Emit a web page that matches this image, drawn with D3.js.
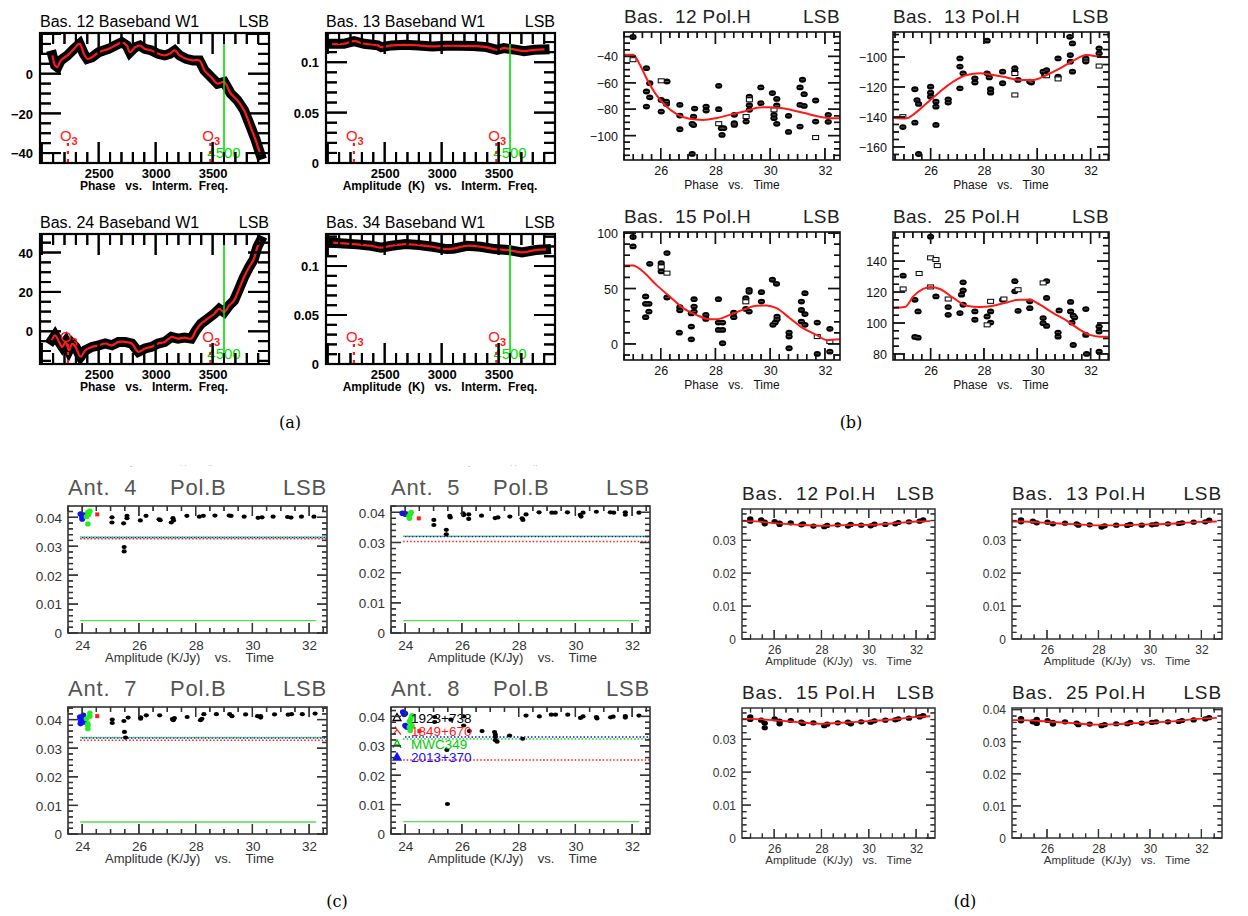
<!DOCTYPE html>
<html><head><meta charset="utf-8">
<script src="https://cdn.jsdelivr.net/npm/d3@7"></script>
<style>
body{margin:0;background:#fff;position:relative;}
#fig{display:block;}
#ticks{position:absolute;left:0;top:0;pointer-events:none;}
svg text{white-space:pre;}
</style></head><body>
<svg id="fig" width="1248" height="916"></svg>
<canvas id="ticks" width="1248" height="916"></canvas>
<script>
// ================= (a) baseband spectra vs IF frequency =================
const ifTicks = [2500, 3000, 3500];
const phaseTicksA12 = [-40, -20, 0];
const phaseTicksA24 = [0, 20, 40];
const ampTicksA = [0, 0.05, 0.1];
const windowFreq = 3600, windowLabel = "4500";
const ozoneFreqs = [2230, 3480];

const bas12IF = [2094,2117,2138,2167,2225,2283,2332,2370,2399,2442,2500,2543,2587,2645,2703,2746,2775,2819,2862,2906,2964,3022,3080,3123,3167,3210,3268,3326,3384,3428,3486,3543,3601,3659,3717,3775,3833,3877,3920];
const bas12Phase = [9.2,4.2,3.3,6.7,9.2,12.5,15,10,7.5,8.3,10.8,11.7,12.5,14.2,15.8,14.2,10.8,13.3,14.2,12.5,11.7,10,9.2,10,11.7,9.2,7.5,6.7,6.7,1.7,-1.7,-5,-4.2,-10,-13.3,-18.3,-26.7,-33.3,-40.8];

const bas24IF = [2088,2117,2152,2181,2210,2239,2268,2297,2341,2384,2442,2500,2558,2616,2674,2732,2790,2848,2906,2964,3022,3080,3138,3196,3254,3312,3355,3399,3457,3514,3558,3601,3645,3688,3732,3775,3819,3862,3891,3920];
const bas24Phase = [-4.5,-2,-5.4,-7.9,-5.4,-9.6,-6.2,-7.9,-12.9,-9.6,-7.9,-7.1,-6.2,-7.1,-5.4,-5.4,-6.2,-10.4,-8.7,-7.9,-6.2,-5.4,-2.9,-3.7,-3.2,-3.7,0.5,3.9,6.4,8.9,11.4,9.7,13.1,15.6,21.5,27.4,32.4,36.6,42.5,45.9];

const bas13IF = [2037,2142,2231,2321,2440,2470,2560,2679,2799,2918,3037,3157,3276,3396,3485,3545,3634,3724,3813,3903];
const bas13Amp = [0.1183,0.1183,0.121,0.1183,0.1167,0.115,0.1167,0.1173,0.1167,0.1157,0.1163,0.1163,0.116,0.115,0.1123,0.114,0.1127,0.111,0.1123,0.1127];

const bas34IF = [2048,2139,2259,2380,2470,2560,2681,2801,2922,3042,3102,3223,3343,3464,3584,3705,3825,3916];
const bas34Amp = [0.1238,0.1231,0.1221,0.1207,0.1187,0.1207,0.1224,0.1214,0.1197,0.1173,0.1177,0.1207,0.1197,0.1173,0.1163,0.1139,0.1163,0.117];

// ================= (b) phase vs time =================
const timeTicks = [26, 28, 30, 32];
const phaseTicksB12 = [-100, -80, -60, -40];
const phaseTicksB13 = [-160, -140, -120, -100];
const phaseTicksB15 = [0, 50, 100];
const phaseTicksB25 = [80, 100, 120, 140];

const b12Filled = [[24.99,-25.3],[25.48,-48.9],[25.48,-66.6],[25.48,-78],[25.6,-60.3],[25.6,-71],[26.23,-59],[26.02,-73],[26.21,-74.2],[26.21,-76],[26.02,-81.8],[26.7,-76.7],[26.7,-84.8],[26.7,-95.2],[27.15,-91.1],[27.2,-92],[27.24,-79.5],[27.2,-85.6],[27.15,-113.9],[27.66,-78],[27.66,-81],[28.12,-62.3],[28.12,-80],[28.22,-94.4],[28.24,-99.5],[28.3,-94.4],[28.69,-84.3],[28.69,-90.6],[28.69,-91.9],[29.12,-89.4],[29.24,-70.4],[29.24,-77],[29.24,-80.5],[29.66,-63.5],[29.66,-75.4],[30.08,-67.8],[30.14,-84.3],[30.14,-86.8],[30.24,-72.2],[30.24,-77.2],[30.24,-91.1],[30.67,-85],[30.67,-97.2],[31.09,-63.5],[31.09,-76.7],[31.18,-57.7],[31.24,-68.6],[31.24,-77.5],[31.09,-93.2],[31.66,-73.4],[31.66,-89.4],[32.12,-84.3],[32.12,-89.6]];
const b12Open = [[24.99,-42.5],[26.02,-58.5],[28.12,-91],[29.12,-85.6],[29.24,-72.9],[30.14,-80.5],[31.66,-101.5]];
const b12Fit = [[24.66,-38.7],[24.99,-38.7],[25.24,-46.3],[25.48,-56.5],[25.84,-69.1],[26.21,-78],[26.57,-83.5],[27.05,-87.3],[27.54,-88.1],[28.02,-86.8],[28.51,-84.3],[29.12,-81.3],[29.6,-78.7],[29.96,-78.5],[30.45,-79.2],[30.93,-81.3],[31.42,-83.8],[31.9,-86.1],[32.27,-86.8],[32.55,-86.8]];

const b13Filled = [[24.96,-146.7],[25.41,-121.5],[25.49,-128.7],[25.55,-131.3],[25.41,-143.8],[25.55,-164.7],[26,-119.8],[26,-123.8],[26,-126.5],[26.2,-129.8],[26.2,-133.1],[26.2,-145.3],[26.66,-128.2],[26.66,-130.4],[27.1,-100.9],[27.1,-106.4],[27.22,-110.9],[27.1,-120.9],[27.66,-114.2],[27.66,-117],[28.12,-89.1],[28.12,-110.9],[28.2,-113.6],[28.25,-121.5],[28.25,-123.8],[28.7,-109.8],[28.7,-117.5],[29.16,-107.5],[29.16,-109.8],[29.28,-115.3],[29.72,-116.4],[29.78,-117],[30.22,-109.8],[30.28,-112],[30.35,-108.7],[30.78,-100.9],[30.78,-113.1],[31.22,-86.5],[31.32,-90.9],[31.24,-98.7],[31.24,-103.1],[31.32,-109.8],[31.82,-100.9],[31.82,-102],[31.82,-103],[32.32,-94.2],[32.32,-97.5]];
const b13Open = [[24.96,-139.8],[29.16,-111],[29.16,-125.3],[30.35,-112.5],[30.78,-114.6],[32.32,-106]];
const b13Fit = [[24.59,-140.7],[24.85,-140.9],[25.1,-140.9],[25.41,-137.6],[25.85,-130.9],[26.35,-123.1],[26.85,-116.4],[27.35,-112],[27.85,-110.9],[28.35,-112],[28.85,-113.6],[29.35,-115.3],[29.85,-115.3],[30.35,-112],[30.85,-107.6],[31.35,-102.4],[31.85,-98.7],[32.35,-99.8],[32.66,-100.2]];

const b15Filled = [[24.99,96.5],[24.99,88],[25.6,72.3],[25.45,42.8],[25.45,36.2],[25.57,36.2],[25.57,29.2],[25.45,24.1],[26.02,73],[26.02,65.4],[26.23,82],[26.23,41.9],[26.7,33.2],[26.7,30.3],[26.68,10.2],[27.12,15.7],[27.12,4.2],[27.22,40.4],[27.22,33.7],[27.22,29.2],[27.12,27.5],[27.65,26.2],[27.65,22.6],[28.11,40.4],[28.11,19.3],[28.11,12.6],[28.26,19.3],[28.26,12.6],[28.26,0.6],[28.67,28.3],[28.67,24.1],[29.11,41.3],[29.11,31.6],[29.23,48.8],[29.23,47],[29.23,29.2],[29.68,46.7],[29.68,38.2],[30.08,57.9],[30.23,54.2],[30.1,17.2],[30.18,19.3],[30.25,24.7],[30.25,22.3],[30.69,10.2],[30.69,6.6],[30.69,-3.9],[31.14,38.2],[31.14,30.6],[31.27,45.8],[31.27,26.9],[31.14,20.2],[31.27,17.2],[31.72,19.3],[31.72,-9],[32.18,13.6],[32.18,-7]];
const b15Open = [[26.02,69.5],[26.23,63.9],[29.11,38],[31.72,6.6],[32.18,2.1]];
const b15Fit = [[24.66,70.8],[24.99,70.8],[25.35,65.4],[25.84,53.3],[26.33,42.8],[26.82,32.3],[27.3,26.2],[27.79,22.3],[28.04,22.3],[28.52,26.2],[29,30.7],[29.5,34.4],[29.86,34.7],[30.23,32.3],[30.72,23.2],[31.2,14.2],[31.69,8.1],[32.06,3.6],[32.54,4.2]];

const b25Filled = [[24.97,130.6],[25.41,115],[25.53,107.5],[25.41,91],[25.53,90.5],[26,155.8],[26.2,117.2],[26.66,110.3],[26.66,105.3],[27.22,126.3],[27.22,121.1],[27.16,118.3],[27.22,111.8],[27.1,106.4],[27.66,107.5],[27.66,102.1],[28.12,104.2],[28.25,107.5],[28.25,100.3],[28.7,115],[29.16,127],[29.16,120.5],[29.28,107.9],[29.72,114],[29.72,109.6],[30.35,127.1],[30.22,103.2],[30.22,99.9],[30.35,98.1],[30.35,116.2],[30.78,93.8],[30.78,91.2],[30.82,108.1],[31.25,113.6],[31.25,107.5],[31.35,104.7],[31.4,103.5],[31.35,85.8],[31.3,100.3],[31.82,109],[31.82,92.3],[31.85,80],[32.32,97.7],[32.32,94.5],[32.32,81.5]];
const b25Open = [[24.97,122],[25.57,132],[26,142.1],[26.2,141],[26.25,137.1],[26,123.3],[26.66,115.5],[28.12,98.8],[28.25,114],[28.75,115.5],[29.28,121.5],[30.22,125.9]];
const b25Fit = [[24.59,109.7],[25.04,110.3],[25.35,117.2],[25.72,122],[26,123.3],[26.35,122],[26.85,116.2],[27.35,111.2],[27.85,110.3],[28.35,111.2],[28.85,113.3],[29.35,115.1],[29.72,115.1],[30.1,111.8],[30.6,106.4],[31.1,101.6],[31.6,95.6],[31.97,92.3],[32.35,91.2],[32.66,91.2]];

// ================= (c) antenna amplitude gains vs time =================
const antTimeTicks = [24, 26, 28, 30, 32];
const antAmpTicks = [0, 0.01, 0.02, 0.03, 0.04];
const sourceNames = ["1923+738", "1849+670", "MWC349", "2013+370"];

const ant4Black = [[25.05,0.0400],[25.05,0.0382],[25.46,0.0379],[25.48,0.0297],[25.48,0.0282],[25.58,0.0405],[25.58,0.0397],[26.05,0.0389],[26.25,0.0405],[26.71,0.0393],[26.75,0.0390],[27.14,0.0382],[27.2,0.0397],[27.22,0.0389],[27.69,0.0405],[28.13,0.0402],[28.27,0.0405],[28.68,0.0406],[29.18,0.0406],[29.25,0.0405],[29.71,0.0402],[30.2,0.0398],[30.34,0.0400],[30.73,0.0402],[31.24,0.0401],[31.36,0.0399],[31.73,0.0402],[32.17,0.0402]];
const ant4Blue = [[23.94,0.0411],[24.0,0.0402],[24.06,0.0408],[24.0,0.0394],[24.12,0.0405]];
const ant4Green = [[24.15,0.0402],[24.2,0.0417],[24.2,0.0377],[24.27,0.0421],[24.23,0.0410]];
const ant4Red = [[24.53,0.0410]];
const ant4Levels = {red: 0.0326, blue: 0.0330, green: 0.0332, floor: 0.0043};

const ant5Black = [[25.01,0.0375],[25.01,0.0358],[25.45,0.0342],[25.45,0.0327],[25.57,0.0388],[25.59,0.0383],[26.04,0.0397],[26.06,0.0391],[26.24,0.0393],[26.24,0.0378],[26.69,0.0389],[27.17,0.0381],[27.27,0.0383],[27.69,0.0386],[28.12,0.0380],[28.15,0.0375],[28.26,0.0393],[28.72,0.0400],[29.17,0.0399],[29.29,0.0399],[29.72,0.0400],[30.17,0.0392],[30.27,0.0399],[30.2,0.0386],[30.74,0.0402],[31.23,0.0400],[31.35,0.0399],[31.76,0.0400],[31.76,0.0392],[32.24,0.0399]];
const ant5Blue = [[23.9,0.0397],[23.98,0.0395],[24.04,0.0394]];
const ant5Green = [[24.13,0.0387],[24.18,0.0395],[24.21,0.0400],[24.15,0.0380]];
const ant5Red = [[24.48,0.0380]];
const ant5Levels = {red: 0.0303, blue: 0.0320, green: 0.0321, floor: 0.0041};

const ant7Black = [[25.06,0.0400],[25.06,0.0388],[25.47,0.0395],[25.49,0.0357],[25.53,0.0337],[25.62,0.0407],[26.06,0.0408],[26.06,0.0403],[26.26,0.0415],[26.73,0.0415],[27.18,0.0402],[27.25,0.0405],[27.21,0.0398],[27.7,0.0409],[28.17,0.0398],[28.22,0.0403],[28.29,0.0419],[28.73,0.0419],[29.2,0.0419],[29.28,0.0412],[29.76,0.0418],[30.18,0.0412],[30.29,0.0412],[30.29,0.0407],[30.78,0.0418],[31.26,0.0417],[31.38,0.0419],[31.76,0.0419],[32.21,0.0421]];
const ant7Blue = [[23.92,0.0409],[23.96,0.0395],[24.0,0.0403],[23.94,0.0386],[24.04,0.0415],[24.06,0.0392]];
const ant7Green = [[24.15,0.0403],[24.2,0.0386],[24.2,0.0368],[24.2,0.0380],[24.27,0.0412],[24.27,0.0423]];
const ant7Red = [[24.53,0.0412]];
const ant7Levels = {red: 0.0328, blue: 0.0336, green: 0.0337, floor: 0.0042};

const ant8Black = [[25.04,0.0381],[25.04,0.0398],[25.47,0.0286],[25.49,0.0102],[25.61,0.0389],[26.06,0.0369],[26.06,0.0400],[26.26,0.0350],[26.71,0.0350],[27.15,0.0347],[27.18,0.0338],[27.18,0.0330],[27.18,0.0319],[27.24,0.0314],[27.68,0.0335],[28.14,0.0324],[28.26,0.0403],[28.73,0.0400],[29.15,0.0406],[29.3,0.0406],[29.73,0.0406],[30.18,0.0395],[30.27,0.0400],[30.74,0.0398],[30.76,0.0393],[31.24,0.0397],[31.33,0.0399],[31.76,0.0401],[31.76,0.0396],[32.24,0.0403]];
const ant8Blue = [[23.92,0.0415],[23.96,0.0407],[24.0,0.0369],[24.06,0.0364],[24.0,0.0410]];
const ant8Green = [[24.15,0.0383],[24.2,0.0392],[24.24,0.0369],[24.24,0.0403],[24.18,0.0352],[24.15,0.0364]];
const ant8Red = [[24.5,0.0350]];
const ant8Levels = {red: 0.0252, blue: 0.0330, green: 0.0323, floor: 0.0042};

const levelStart = 23.93, floorEnd = 32.25;

// ================= (d) baseline amplitude vs time =================
const ampTicksD = [0, 0.01, 0.02, 0.03];
const ampTicksD25 = [0, 0.01, 0.02, 0.03, 0.04];

const d12Pts = [[24.99,0.0365],[24.99,0.0358],[25.45,0.0362],[25.6,0.0355],[25.6,0.0350],[26.02,0.0357],[26.23,0.0352],[26.23,0.0348],[26.7,0.0353],[27.15,0.0347],[27.22,0.0350],[27.66,0.0343],[28.12,0.0341],[28.24,0.0345],[28.69,0.0347],[29.12,0.0343],[29.24,0.0348],[29.68,0.0346],[30.08,0.0344],[30.24,0.0349],[30.7,0.0348],[31.12,0.0350],[31.25,0.0354],[31.7,0.0356],[32.15,0.0358],[32.3,0.0362]];
const d12Fit = [[24.64,0.0358],[25,0.0358],[26,0.0352],[27,0.0347],[28,0.0344],[29,0.0346],[30,0.0347],[31,0.0351],[32,0.0357],[32.6,0.0358]];
const d13Pts = [[24.99,0.0362],[24.99,0.0356],[25.45,0.0358],[25.6,0.0353],[26.02,0.0355],[26.23,0.0350],[26.7,0.0352],[27.15,0.0350],[27.22,0.0346],[27.66,0.0347],[28.12,0.0340],[28.24,0.0344],[28.69,0.0346],[29.12,0.0345],[29.24,0.0348],[29.68,0.0346],[30.08,0.0347],[30.24,0.0349],[30.7,0.0350],[31.12,0.0351],[31.25,0.0353],[31.7,0.0355],[32.15,0.0356],[32.3,0.0361]];
const d13Fit = [[24.64,0.0357],[25,0.0357],[26,0.0353],[27,0.0349],[28,0.0345],[29,0.0346],[30,0.0348],[31,0.0351],[32,0.0356],[32.6,0.0357]];
const d15Pts = [[24.99,0.0368],[24.99,0.0360],[25.45,0.0358],[25.6,0.0349],[25.6,0.0335],[26.02,0.0362],[26.23,0.0355],[26.23,0.0347],[26.7,0.0357],[27.15,0.0352],[27.22,0.0348],[27.66,0.0350],[28.12,0.0341],[28.24,0.0346],[28.69,0.0350],[29.12,0.0352],[29.24,0.0347],[29.68,0.0353],[30.08,0.0352],[30.24,0.0356],[30.7,0.0358],[31.12,0.0359],[31.25,0.0362],[31.7,0.0364],[32.15,0.0368],[32.3,0.0372]];
const d15Fit = [[24.64,0.0362],[25,0.0362],[26,0.0358],[27,0.0352],[28,0.0347],[29,0.0351],[30,0.0355],[31,0.0360],[32,0.0368],[32.6,0.0370]];
const d25Pts = [[24.99,0.0372],[24.99,0.0365],[25.45,0.0362],[25.6,0.0357],[25.6,0.0370],[26.02,0.0366],[26.23,0.0360],[26.23,0.0355],[26.7,0.0362],[27.15,0.0358],[27.22,0.0353],[27.66,0.0355],[28.12,0.0350],[28.24,0.0353],[28.69,0.0356],[29.12,0.0356],[29.24,0.0360],[29.68,0.0358],[30.08,0.0360],[30.24,0.0362],[30.7,0.0362],[31.12,0.0363],[31.25,0.0366],[31.7,0.0368],[32.15,0.0371],[32.3,0.0375]];
const d25Fit = [[24.64,0.0367],[25,0.0367],[26,0.0363],[27,0.0358],[28,0.0353],[29,0.0356],[30,0.0360],[31,0.0364],[32,0.0372],[32.6,0.0374]];

// ======================= drawing helpers =======================
const svg = d3.select("#fig");
const RED = "#ff1a1a", GREEN = "#00dd00", BLUE = "#1010ff";
const signed = d3.format("");
const tickSegs = [];   // frame tick segments, also painted on the overlay canvas

// regularly spaced values inside a domain (tick positions)
function steps(domain, step) {
  const out = [];
  const lo = Math.min(domain[0], domain[1]), hi = Math.max(domain[0], domain[1]);
  let i = Math.ceil(lo / step - 1e-9);
  while (i * step <= hi + 1e-9) { out.push(Math.round(i * step * 1e6) / 1e6); i += 1; }
  return out;
}

function makePanel(c) {
  const x = d3.scaleLinear().domain(c.xDomain).range([c.left, c.right]);
  const y = d3.scaleLinear().domain(c.yDomain).range([c.bottom, c.top]);
  const s = c.style;
  const xMajorAll = steps(c.xDomain, c.xMajorStep);
  const yMajorAll = steps(c.yDomain, c.yMajorStep);
  const isMajor = (v, arr) => arr.some(a => Math.abs(a - v) < 1e-6);
  const xMinor = steps(c.xDomain, c.xMinorStep).filter(v => !isMajor(v, xMajorAll));
  const yMinor = steps(c.yDomain, c.yMinorStep).filter(v => !isMajor(v, yMajorAll));

  // tick labels from d3 axes
  const g = svg.append("g");
  const put = (axis, tx, ty) => g.append("g").attr("transform", `translate(${tx},${ty})`).call(axis);
  put(d3.axisBottom(x).tickValues(c.xMajor).tickSize(0).tickPadding(s.xPad).tickFormat(c.xFmt || (d => d)), 0, c.bottom);
  const yl = put(d3.axisLeft(y).tickValues(c.yMajor).tickSize(0).tickPadding(s.yPad).tickFormat(c.yFmt || signed), c.left, 0);
  g.selectAll(".domain").remove();
  g.selectAll(".tick line").remove();
  g.selectAll(".tick text").attr("fill", s.textColor).attr("font-family", s.font)
    .attr("font-size", s.tickSize).attr("font-weight", s.tickWeight);
  yl.selectAll(".tick text").attr("dy", "0.36em");

  // plotting layer clipped to the frame
  const id = "clip" + Math.round(c.left) + "_" + Math.round(c.top);
  const defs = svg.append("defs");
  defs.append("clipPath").attr("id", id).append("rect")
    .attr("x", c.left).attr("y", c.top).attr("width", c.right - c.left).attr("height", c.bottom - c.top);
  const plot = svg.append("g").attr("clip-path", `url(#${id})`);
  const over = svg.append("g");

  // inward tick marks on all four sides of the frame
  const addX = (vals, len) => vals.forEach(v => {
    const px = x(v);
    tickSegs.push([px, c.bottom, px, c.bottom - len, s.color, s.tickW]);
    tickSegs.push([px, c.top, px, c.top + len, s.color, s.tickW]);
  });
  const addY = (vals, len) => vals.forEach(v => {
    const py = y(v);
    tickSegs.push([c.left, py, c.left + len, py, s.color, s.tickW]);
    tickSegs.push([c.right, py, c.right - len, py, s.color, s.tickW]);
  });
  addX(xMinor, s.minor); addX(xMajorAll, s.major);
  addY(yMinor, s.minor); addY(yMajorAll, s.major);

  over.append("rect").attr("x", c.left).attr("y", c.top).attr("width", c.right - c.left)
    .attr("height", c.bottom - c.top).attr("fill", "none").attr("stroke", s.color).attr("stroke-width", s.frameW);

  c.titles.forEach(t => {
    over.append("text").attr("x", t.x).attr("y", t.y).attr("text-anchor", t.anchor || "start")
      .attr("font-family", t.font || s.font).attr("font-size", t.size).attr("font-weight", t.weight || "normal")
      .attr("letter-spacing", t.ls || 0).attr("fill", t.color || s.textColor).text(t.text);
  });
  return {x, y, plot, over, c};
}

// ======================= (a) =======================
const styleA = {color: "#000", textColor: "#000", font: "Liberation Sans, Arial, sans-serif", tickSize: 13, tickWeight: "bold",
  major: 21, minor: 11, tickW: 2, frameW: 2.2, xPad: 6, yPad: 7};
const ifDomain = [1985, 3995];

function panelA(opts) {
  const p = makePanel({
    left: opts.left, right: opts.left + 229, top: opts.top, bottom: opts.top + 130,
    xDomain: ifDomain, yDomain: opts.yDomain, xMajor: ifTicks, xMinorStep: 100,
    xMajorStep: 500, yMajor: opts.yTicks, yMinorStep: opts.yMinorStep, yMajorStep: opts.yMajorStep,
    yFmt: opts.yFmt, style: styleA,
    titles: [
      {x: opts.left, y: opts.top - 6, text: opts.title, size: 16},
      {x: opts.left + 229, y: opts.top - 6, text: "LSB", size: 16, anchor: "end"},
      {x: opts.left + 114, y: opts.top + 157, text: opts.xlabel, size: 12, weight: "bold", anchor: "middle"}
    ]
  });
  const pts = opts.xs.map((f, i) => [f, opts.ys[i]]);
  const line = d3.line().x(d => p.x(d[0])).y(d => p.y(d[1]));
  p.plot.append("path").attr("d", line(pts)).attr("fill", "none").attr("stroke", "#000")
    .attr("stroke-width", 10).attr("stroke-linejoin", "miter").attr("stroke-linecap", "square");
  p.plot.append("path").attr("d", line.curve(d3.curveCatmullRom)(pts)).attr("fill", "none")
    .attr("stroke", RED).attr("stroke-width", 2.2);
  // IF window edge
  const gx = p.x(windowFreq);
  p.over.append("line").attr("x1", gx).attr("x2", gx).attr("y1", p.c.top).attr("y2", p.c.bottom)
    .attr("stroke", GREEN).attr("stroke-width", 1.6);
  p.over.append("text").attr("x", gx).attr("y", p.c.bottom - 5).attr("text-anchor", "middle")
    .attr("font-family", styleA.font).attr("font-size", 15).attr("fill", GREEN).text(windowLabel);
  // ozone line markers
  ozoneFreqs.forEach(f => {
    const ox = p.x(f);
    p.over.append("line").attr("x1", ox).attr("x2", ox).attr("y1", p.c.bottom - 1).attr("y2", p.c.bottom - 20)
      .attr("stroke", RED).attr("stroke-width", 2.2).attr("stroke-dasharray", "3,5");
    const t = p.over.append("text").attr("x", ox - 8).attr("y", p.c.bottom - 22)
      .attr("font-family", styleA.font).attr("font-size", 15).attr("fill", RED);
    t.append("tspan").text("O");
    t.append("tspan").attr("font-size", 11).attr("font-weight", "bold").attr("dy", 4).text("3");
  });
}

panelA({left: 40, top: 33, title: "Bas. 12 Baseband W1", xlabel: "Phase   vs.   Interm.  Freq.",
  yDomain: [-45, 20.5], yTicks: phaseTicksA12, yMinorStep: 5, yMajorStep: 20, xs: bas12IF, ys: bas12Phase});
panelA({left: 326, top: 33, title: "Bas. 13 Baseband W1", xlabel: "Amplitude  (K)   vs.   Interm.  Freq.",
  yDomain: [0, 0.129], yTicks: ampTicksA, yMinorStep: 0.01, yMajorStep: 0.05, yFmt: d => d, xs: bas13IF, ys: bas13Amp});
panelA({left: 40, top: 234, title: "Bas. 24 Baseband W1", xlabel: "Phase   vs.   Interm.  Freq.",
  yDomain: [-16.6, 49.4], yTicks: phaseTicksA24, yMinorStep: 5, yMajorStep: 20, xs: bas24IF, ys: bas24Phase});
panelA({left: 326, top: 234, title: "Bas. 34 Baseband W1", xlabel: "Amplitude  (K)   vs.   Interm.  Freq.",
  yDomain: [0, 0.1327], yTicks: ampTicksA, yMinorStep: 0.01, yMajorStep: 0.05, yFmt: d => d, xs: bas34IF, ys: bas34Amp});

// ======================= (b) =======================
const styleB = {color: "#111", textColor: "#111", font: "Liberation Sans, Arial, sans-serif", tickSize: 12.5, tickWeight: "normal",
  major: 12, minor: 6, tickW: 1.4, frameW: 1.6, xPad: 6, yPad: 6};

function panelB(opts) {
  const w = opts.w, h = 128;
  const p = makePanel({
    left: opts.left, right: opts.left + w, top: opts.top, bottom: opts.top + h,
    xDomain: opts.xDomain, yDomain: opts.yDomain, xMajor: timeTicks, xMinorStep: 1 / 3, xMajorStep: 2,
    yMajor: opts.yTicks, yMinorStep: opts.yMinorStep, yMajorStep: opts.yMajorStep,
    style: styleB,
    titles: [
      {x: opts.left, y: opts.top - 9, text: opts.title, size: 19, color: "#222", ls: 0.4},
      {x: opts.left + w, y: opts.top - 9, text: "LSB", size: 19, anchor: "end", color: "#222", ls: 0.4},
      {x: opts.left + w / 2, y: opts.top + h + 29, text: "Phase   vs.   Time", size: 12, anchor: "middle"}
    ]
  });
  p.plot.selectAll(".dot").data(opts.filled).join("ellipse")
    .attr("cx", d => p.x(d[0])).attr("cy", d => p.y(d[1])).attr("rx", 3.6).attr("ry", 2.9).attr("fill", "#000");
  p.plot.selectAll(".dotw").data(opts.filled).join("line")
    .attr("x1", d => p.x(d[0]) - 2).attr("x2", d => p.x(d[0]) + 2)
    .attr("y1", d => p.y(d[1])).attr("y2", d => p.y(d[1])).attr("stroke", "#777").attr("stroke-width", 0.7);
  p.plot.selectAll(".open").data(opts.open).join("rect")
    .attr("x", d => p.x(d[0]) - 3).attr("y", d => p.y(d[1]) - 2).attr("width", 6).attr("height", 4)
    .attr("fill", "#fff").attr("stroke", "#000").attr("stroke-width", 1);
  const line = d3.line().x(d => p.x(d[0])).y(d => p.y(d[1])).curve(d3.curveMonotoneX);
  p.plot.append("path").attr("d", line(opts.fit)).attr("fill", "none").attr("stroke", RED).attr("stroke-width", 2);
}

panelB({left: 624, top: 32, w: 216, xDomain: [24.66, 32.55], yDomain: [-118.5, -21.5], yTicks: phaseTicksB12,
  yMinorStep: 5, yMajorStep: 20, title: "Bas.  12 Pol.H", filled: b12Filled, open: b12Open, fit: b12Fit});
panelB({left: 893, top: 32, w: 216, xDomain: [24.59, 32.69], yDomain: [-168.7, -83.3], yTicks: phaseTicksB13,
  yMinorStep: 5, yMajorStep: 20, title: "Bas.  13 Pol.H", filled: b13Filled, open: b13Open, fit: b13Fit});
panelB({left: 624, top: 232, w: 216, xDomain: [24.66, 32.55], yDomain: [-14.5, 101], yTicks: phaseTicksB15,
  yMinorStep: 10, yMajorStep: 50, title: "Bas.  15 Pol.H", filled: b15Filled, open: b15Open, fit: b15Fit});
panelB({left: 893, top: 232, w: 216, xDomain: [24.59, 32.69], yDomain: [76.1, 158.8], yTicks: phaseTicksB25,
  yMinorStep: 5, yMajorStep: 20, title: "Bas.  25 Pol.H", filled: b25Filled, open: b25Open, fit: b25Fit});

// ======================= (c) =======================
const styleC = {color: "#333", textColor: "#333", font: "Liberation Sans, Arial, sans-serif", tickSize: 13.5, tickWeight: "normal",
  major: 10, minor: 5, tickW: 1.3, frameW: 1.6, xPad: 7, yPad: 6};
const antXDomain = [23.5, 32.63];

function panelC(opts) {
  const w = 259, h = 127;
  const p = makePanel({
    left: opts.left, right: opts.left + w, top: opts.top, bottom: opts.top + h,
    xDomain: antXDomain, yDomain: opts.yDomain, xMajor: antTimeTicks, xMinorStep: 0.5, xMajorStep: 2,
    yMajor: antAmpTicks, yMinorStep: 0.002, yMajorStep: 0.01,
    yFmt: d => d === 0 ? "0" : d3.format(".2f")(d), style: styleC,
    titles: [
      {x: opts.left, y: opts.top - 11, text: opts.ant, size: 22, color: "#555", ls: 0.8},
      {x: opts.left + 102, y: opts.top - 11, text: "Pol.B", size: 22, color: "#555", ls: 0.8},
      {x: opts.left + w, y: opts.top - 11, text: "LSB", size: 22, anchor: "end", color: "#555", ls: 0.8},
      {x: opts.left + w / 2 - 8, y: opts.top + h + 29, text: "Amplitude (K/Jy)    vs.    Time", size: 13, anchor: "middle"}
    ]
  });
  const L = opts.levels;
  const hline = (v, col, x0, x1, dash, sw) => p.plot.append("line")
    .attr("x1", p.x(x0)).attr("x2", p.x(x1)).attr("y1", p.y(v)).attr("y2", p.y(v))
    .attr("stroke", col).attr("stroke-width", sw).attr("stroke-dasharray", dash);
  hline(L.red, RED, levelStart, antXDomain[1], "1.5,2", 1.5);
  hline(L.green, GREEN, levelStart, antXDomain[1], "1.5,2", 1.5);
  hline(L.blue, BLUE, levelStart, antXDomain[1], "1.5,2", 1.5).attr("stroke-dashoffset", 1.7);
  hline(L.floor, "#55dd55", levelStart, floorEnd, null, 1.3);

  const dots = (arr, col, rx, ry) => p.plot.append("g").selectAll("ellipse").data(arr).join("ellipse")
    .attr("cx", d => p.x(d[0])).attr("cy", d => p.y(d[1])).attr("rx", rx).attr("ry", ry).attr("fill", col);
  dots(opts.black, "#000", 2.6, 2.1);
  dots(opts.blue, BLUE, 3, 2.8);
  dots(opts.green, "#22ee22", 2.8, 2.6);
  p.plot.append("g").selectAll("rect").data(opts.red).join("rect")
    .attr("x", d => p.x(d[0]) - 2).attr("y", d => p.y(d[1]) - 2).attr("width", 4).attr("height", 4).attr("fill", RED);
  return p;
}

panelC({left: 68, top: 506, ant: "Ant.  4", yDomain: [0, 0.0439], black: ant4Black, blue: ant4Blue, green: ant4Green, red: ant4Red, levels: ant4Levels});
panelC({left: 391, top: 506, ant: "Ant.  5", yDomain: [0, 0.0421], black: ant5Black, blue: ant5Blue, green: ant5Green, red: ant5Red, levels: ant5Levels});
panelC({left: 68, top: 707, ant: "Ant.  7", yDomain: [0, 0.0444], black: ant7Black, blue: ant7Blue, green: ant7Green, red: ant7Red, levels: ant7Levels});
const p8 = panelC({left: 391, top: 707, ant: "Ant.  8", yDomain: [0, 0.0432], black: ant8Black, blue: ant8Blue, green: ant8Green, red: ant8Red, levels: ant8Levels});

// source legend inside the Ant. 8 panel
const legendColors = ["#000", RED, "#00cc00", BLUE];
const legendMarks = [
  "M-4,3 L0,-4 L4,3 Z",
  "M-4,4 L0,-1 L4,4 M0,-1 L-2,-4",
  "M-4,4 L0,-4 L4,4 M-2,1 L2,1",
  "M-4,3 L0,-4 L4,3 Z"
];
sourceNames.forEach((name, i) => {
  const ly = p8.c.top + 10.5 + i * 13.2;
  p8.over.append("path").attr("transform", `translate(${p8.c.left + 6},${ly})`).attr("d", legendMarks[i])
    .attr("fill", i === 3 ? BLUE : "none").attr("stroke", legendColors[i]).attr("stroke-width", 1.3);
  p8.over.append("text").attr("x", p8.c.left + 20).attr("y", ly + 5).attr("font-family", styleC.font)
    .attr("font-size", 13.5).attr("fill", legendColors[i]).text(name);
});

// faint header fragments above the upper antenna panels
[[130, "-"], [180, "· ·"], [208, "··"], [468, "-"], [510, "· ·"], [533, "··"]].forEach(([fx, s]) => {
  svg.append("text").attr("x", fx).attr("y", 468).attr("font-family", styleC.font).attr("font-size", 7)
    .attr("fill", "#999").text(s);
});

// ======================= (d) =======================
const styleD = {color: "#333", textColor: "#333", font: "Liberation Sans, Arial, sans-serif", tickSize: 12, tickWeight: "normal",
  major: 9, minor: 4.5, tickW: 1.2, frameW: 1.5, xPad: 6, yPad: 6};

function panelD(opts) {
  const w = opts.w, h = 130;
  const p = makePanel({
    left: opts.left, right: opts.left + w, top: opts.top, bottom: opts.top + h,
    xDomain: opts.xDomain, yDomain: opts.yDomain, xMajor: timeTicks, xMinorStep: 0.5, xMajorStep: 2,
    yMajor: opts.yTicks, yMinorStep: 0.002, yMajorStep: 0.01,
    yFmt: d => d === 0 ? "0" : d3.format(".2f")(d), style: styleD,
    titles: [
      {x: opts.left, y: opts.top - 9, text: opts.title, size: 19, color: "#222", ls: 0.9},
      {x: opts.left + w, y: opts.top - 9, text: "LSB", size: 19, anchor: "end", color: "#222", ls: 0.9},
      {x: opts.left + w / 2, y: opts.top + h + 26, text: "Amplitude  (K/Jy)   vs.   Time", size: 11.5, anchor: "middle"}
    ]
  });
  p.plot.selectAll(".dot").data(opts.pts).join("ellipse")
    .attr("cx", d => p.x(d[0])).attr("cy", d => p.y(d[1])).attr("rx", 3.2).attr("ry", 2.6).attr("fill", "#000");
  const line = d3.line().x(d => p.x(d[0])).y(d => p.y(d[1])).curve(d3.curveMonotoneX);
  p.plot.append("path").attr("d", line(opts.fit)).attr("fill", "none").attr("stroke", RED).attr("stroke-width", 1.8);
}

panelD({left: 742, top: 509, w: 193, xDomain: [24.64, 32.8], yDomain: [0, 0.0395], yTicks: ampTicksD, title: "Bas.  12 Pol.H", pts: d12Pts, fit: d12Fit});
panelD({left: 1012, top: 509, w: 210, xDomain: [24.64, 32.8], yDomain: [0, 0.0395], yTicks: ampTicksD, title: "Bas.  13 Pol.H", pts: d13Pts, fit: d13Fit});
panelD({left: 742, top: 708, w: 193, xDomain: [24.64, 32.8], yDomain: [0, 0.0395], yTicks: ampTicksD, title: "Bas.  15 Pol.H", pts: d15Pts, fit: d15Fit});
panelD({left: 1012, top: 708, w: 210, xDomain: [24.64, 32.8], yDomain: [0, 0.0405], yTicks: ampTicksD25, title: "Bas.  25 Pol.H", pts: d25Pts, fit: d25Fit});

// frame ticks: SVG segments plus the same segments painted on the overlay canvas
svg.append("g").selectAll("line").data(tickSegs).join("line")
  .attr("x1", d => d[0]).attr("y1", d => d[1]).attr("x2", d => d[2]).attr("y2", d => d[3])
  .attr("stroke", d => d[4]).attr("stroke-width", d => d[5]);
const ctx = document.getElementById("ticks").getContext("2d");
tickSegs.forEach(([x1, y1, x2, y2, col, lw]) => {
  ctx.beginPath();
  ctx.moveTo(x1, y1);
  ctx.lineTo(x2, y2);
  ctx.strokeStyle = col;
  ctx.lineWidth = lw;
  ctx.stroke();
});

// ======================= sub-figure captions =======================
[["(a)", 290, 428], ["(b)", 851, 428], ["(c)", 337, 907], ["(d)", 965, 907]].forEach(([t, cx, cy]) => {
  svg.append("text").attr("x", cx).attr("y", cy).attr("text-anchor", "middle")
    .attr("font-family", "DejaVu Serif, Liberation Serif, serif").attr("font-size", 16).attr("fill", "#000").text(t);
});
</script>
</body></html>
